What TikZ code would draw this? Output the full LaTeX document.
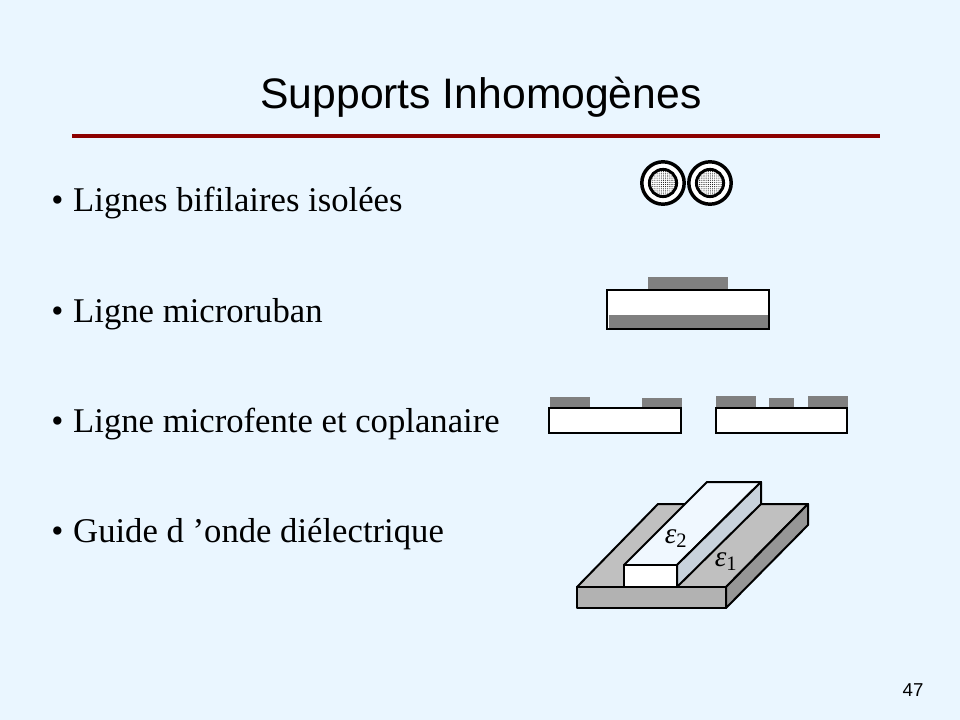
\documentclass[tikz,border=0pt]{standalone}
\usepackage{fontspec}
\setmainfont{Liberation Serif}
\newfontfamily\titlefont{Liberation Sans}
\usepackage{tikz}
\usetikzlibrary{patterns.meta}
\definecolor{slidebg}{RGB}{234,246,255}
\definecolor{rulered}{RGB}{140,0,0}
\definecolor{metal}{RGB}{128,128,128}
\definecolor{basetop}{RGB}{192,192,192}
\definecolor{basefront}{RGB}{178,178,178}
\definecolor{baseside}{RGB}{150,150,150}
\definecolor{striptop}{RGB}{240,248,255}
\definecolor{stripside}{RGB}{200,210,220}
\newcommand{\slab}[4]{ \draw[line width=2pt, fill=white] ( #1 , #2 ) rectangle ( #3 , #4 );}
\newcommand{\strip}[4]{ \fill[metal] ( #1 , #2 ) rectangle ( #3 , #4 );}
\newcommand{\wire}[2]{ \draw[line width=2.6pt, fill=white] ( #1 , #2 ) circle (15.9pt); \draw[line width=2.2pt, preaction={fill=white}, pattern={Dots[distance=1.6pt, radius=0.4pt]}] ( #1 , #2 ) circle (10.2pt);}
\newcommand{\itemtext}[4]{\node[anchor=base west, inner sep=0pt, font=\fontsize{26}{30}\selectfont] (#1) at ( #2 , #3 ) {\makebox[16.5pt][l]{\textbullet}#4};}

\begin{document}
\begin{tikzpicture}[x=0.75pt, y=-0.75pt]
        \useasboundingbox[fill=slidebg] (0,0) rectangle (960,720);

        \node[anchor=base, inner sep=0pt, font=\titlefont\fontsize{32}{38}\selectfont] (title) at (481,109) {Supports Inhomogènes};
        \draw[rulered, line width=2.3pt] (72,136) -- (880,136);

        \itemtext{bifil}{51}{212}{Lignes bifilaires isolées}
        \itemtext{micro}{51}{322}{Ligne microruban}
        \itemtext{fente}{51}{432}{Ligne microfente et coplanaire}
        \itemtext{guide}{51}{542}{Guide d ’onde diélectrique}

        % lignes bifilaires
        \wire{663}{183}
        \wire{710}{183}

        % microruban
        \strip{648}{277}{728}{291}
        \slab{607}{290}{769}{329}
        \fill[metal] (608.5,315) rectangle (767.5,327.5);

        % microfente
        \strip{550}{397}{590}{409}
        \strip{642}{398}{682}{409}
        \slab{549}{408}{681}{433}

        % coplanaire
        \strip{716}{396}{756}{409}
        \strip{769}{398}{794}{409}
        \strip{808}{396}{848}{409}
        \slab{716}{408}{847}{433}

        % guide dielectrique
        \filldraw[line width=1.5pt, line join=round, fill=basetop] (577,587) -- (726,587) -- (808,504) -- (658,504) -- cycle;
        \filldraw[line width=1.5pt, line join=round, fill=basefront] (577,587) rectangle (726,608);
        \filldraw[line width=1.5pt, line join=round, fill=baseside] (726,587) -- (808,504) -- (808,525) -- (726,608) -- cycle;
        \filldraw[line width=1.5pt, line join=round, fill=striptop] (624,565) -- (677,565) -- (761,482) -- (707,482) -- cycle;
        \filldraw[line width=1.5pt, line join=round, fill=white] (624,565) rectangle (677,587);
        \filldraw[line width=1.5pt, line join=round, fill=stripside] (677,565) -- (761,482) -- (761,504) -- (677,587) -- cycle;
        \node[inner sep=0pt, font=\fontsize{22}{24}\selectfont] (eps2) at (676,539) {\textit{ε}\textsubscript{2}};
        \node[inner sep=0pt, font=\fontsize{22}{24}\selectfont] (eps1) at (726,562) {\textit{ε}\textsubscript{1}};

        \node[anchor=base, inner sep=0pt, font=\titlefont\fontsize{14}{16}\selectfont] (page) at (913,696) {47};
    \end{tikzpicture}
\end{document}
